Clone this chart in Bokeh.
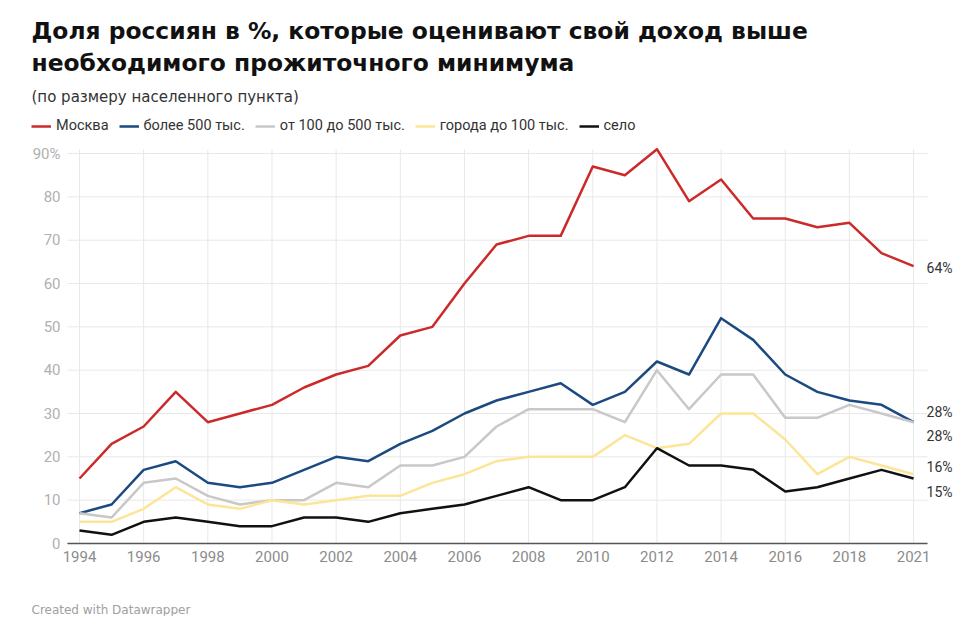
from bokeh.plotting import figure
from bokeh.models import (Range1d, FixedTicker, Legend, LegendItem, ColumnDataSource, Label)
from bokeh.core.properties import value
from bokeh.embed import file_html
from bokeh.resources import INLINE

# ---------------- data ----------------
years = [1994, 1995, 1996, 1997, 1998, 1999, 2000, 2001, 2002, 2003, 2004, 2005, 2006,
         2007, 2008, 2009, 2010, 2011, 2012, 2013, 2014, 2015, 2016, 2017, 2018, 2019, 2021]
tick_years = [1994, 1996, 1998, 2000, 2002, 2004, 2006, 2008, 2010, 2012, 2014, 2016, 2018, 2021]

moscow = [15, 23, 27, 35, 28, 30, 32, 36, 39, 41, 48, 50, 60, 69, 71, 71, 87, 85, 91, 79, 84, 75, 75, 73, 74, 67, 64]
over500 = [7, 9, 17, 19, 14, 13, 14, 17, 20, 19, 23, 26, 30, 33, 35, 37, 32, 35, 42, 39, 52, 47, 39, 35, 33, 32, 28]
from100to500 = [7, 6, 14, 15, 11, 9, 10, 10, 14, 13, 18, 18, 20, 27, 31, 31, 31, 28, 40, 31, 39, 39, 29, 29, 32, 30, 28]
under100 = [5, 5, 8, 13, 9, 8, 10, 9, 10, 11, 11, 14, 16, 19, 20, 20, 20, 25, 22, 23, 30, 30, 24, 16, 20, 18, 16]
village = [3, 2, 5, 6, 5, 4, 4, 6, 6, 5, 7, 8, 9, 11, 13, 10, 10, 13, 22, 18, 18, 17, 12, 13, 15, 17, 15]

series_names = ["Москва", "более 500 тыс.", "от 100 до 500 тыс.", "города до 100 тыс.", "село"]
series_values = [moscow, over500, from100to500, under100, village]

y_ticks = [0, 10, 20, 30, 40, 50, 60, 70, 80, 90]

title_lines = ["Доля россиян в %, которые оценивают свой доход выше",
               "необходимого прожиточного минимума"]
subtitle = "(по размеру населенного пункта)"
footer = "Created with Datawrapper"

# ---------------- styles / geometry ----------------
colors = ["#cc2a2a", "#1b4a80", "#c8c8c8", "#fde597", "#111111"]
label_dy = [2, -10, 14, -7, 13]
FONT = "Roboto"
HFONT = "DejaVu Sans"
W, H = 955, 616
GRID = "#e8e8e8"
PX_X, PX_Y = 32.08, 4.333          # pixels per x step / per y unit
X_ORIG, Y_ORIG = 79, 543           # pixel position of first year / of y=0
GX0, GX1, GY1 = 67, 927, 149       # grid area edges in pixels

def xd(px):
    return (px - X_ORIG) / PX_X

def yd(py):
    return (Y_ORIG - py) / PX_Y

idx = list(range(len(years)))

p = figure(width=W, height=H, output_backend="svg", toolbar_location=None, title=None,
           x_range=Range1d(xd(0), xd(W)), y_range=Range1d(yd(H), yd(0)),
           min_border_left=0, min_border_right=0, min_border_top=0, min_border_bottom=0)
p.outline_line_color = None
p.grid.visible = False

tick_pos = [years.index(y) for y in tick_years]

# x axis fixed at y = 0 (takes no border space)
xa = p.xaxis[0]
xa.fixed_location = 0
xa.ticker = FixedTicker(ticks=tick_pos)
xa.major_label_overrides = {i: str(y) for i, y in zip(tick_pos, tick_years)}
xa.bounds = (xd(GX0), xd(GX1))
xa.axis_line_color = "#555555"
xa.axis_line_width = 1.5
xa.major_tick_line_color = None
xa.minor_tick_line_color = None
xa.major_tick_in = 0
xa.major_tick_out = 0
xa.major_label_standoff = 7
xa.major_label_text_font = FONT
xa.major_label_text_font_size = "15px"
xa.major_label_text_color = "#8c8c8c"

# y axis fixed at left edge of grid
ya = p.yaxis[0]
ya.fixed_location = xd(GX0)
ya.ticker = FixedTicker(ticks=y_ticks)
ya.major_label_overrides = {90: "90%"}
ya.axis_line_color = None
ya.major_tick_line_color = None
ya.minor_tick_line_color = None
ya.major_tick_in = 0
ya.major_tick_out = 0
ya.major_label_standoff = 7
ya.major_label_text_font = FONT
ya.major_label_text_font_size = "15px"
ya.major_label_text_color = "#b0b0b0"

# grid lines
p.segment(x0=[xd(GX0)] * len(y_ticks), x1=[xd(GX1)] * len(y_ticks), y0=y_ticks, y1=y_ticks,
          line_color=GRID, line_width=1)
p.segment(x0=tick_pos, x1=tick_pos, y0=[0] * len(tick_pos), y1=[yd(GY1)] * len(tick_pos),
          line_color=GRID, line_width=1)

renderers = []
for vals, col in zip(series_values, colors):
    src = ColumnDataSource(dict(x=idx, y=vals))
    renderers.append(p.line("x", "y", source=src, line_color=col, line_width=2.5, line_join="round"))

last_vals = [v[-1] for v in series_values]
lab_src = ColumnDataSource(dict(x=[idx[-1]] * len(last_vals), y=last_vals,
                                t=[f"{v}%" for v in last_vals], dy=label_dy))
p.text("x", "y", text="t", source=lab_src, x_offset=13, y_offset="dy",
       text_font=value(FONT), text_font_size="14px", text_color="#333333",
       text_baseline="middle", text_align="left")

# legend
legend = Legend(items=[LegendItem(label=n, renderers=[r]) for n, r in zip(series_names, renderers)],
                orientation="horizontal", location=(31, H - 134))
legend.padding = 0
legend.margin = 0
legend.border_line_color = None
legend.background_fill_alpha = 0
legend.glyph_width = 20
legend.glyph_height = 14
legend.label_height = 14
legend.label_standoff = 5
legend.spacing = 10
legend.label_text_font = FONT
legend.label_text_font_size = "14.5px"
legend.label_text_color = "#333333"
p.add_layout(legend, "center")

# titles & footer (screen units, measured from bottom of canvas)
for line, base in zip(title_lines, [30, 62]):
    p.add_layout(Label(x=31, y=H - base, x_units="screen", y_units="screen", text=line,
                       text_font=HFONT, text_font_style="bold", text_font_size="23.4px",
                       text_color="#111111", text_baseline="alphabetic"))
p.add_layout(Label(x=31, y=H - 96, x_units="screen", y_units="screen", text=subtitle,
                   text_font=HFONT, text_font_size="15px", text_color="#333333",
                   text_baseline="alphabetic"))
p.add_layout(Label(x=31, y=H - 609, x_units="screen", y_units="screen", text=footer,
                   text_font=HFONT, text_font_size="12px", text_color="#a0a0a0",
                   text_baseline="alphabetic"))

open("out.html", "w").write(file_html(p, INLINE))
